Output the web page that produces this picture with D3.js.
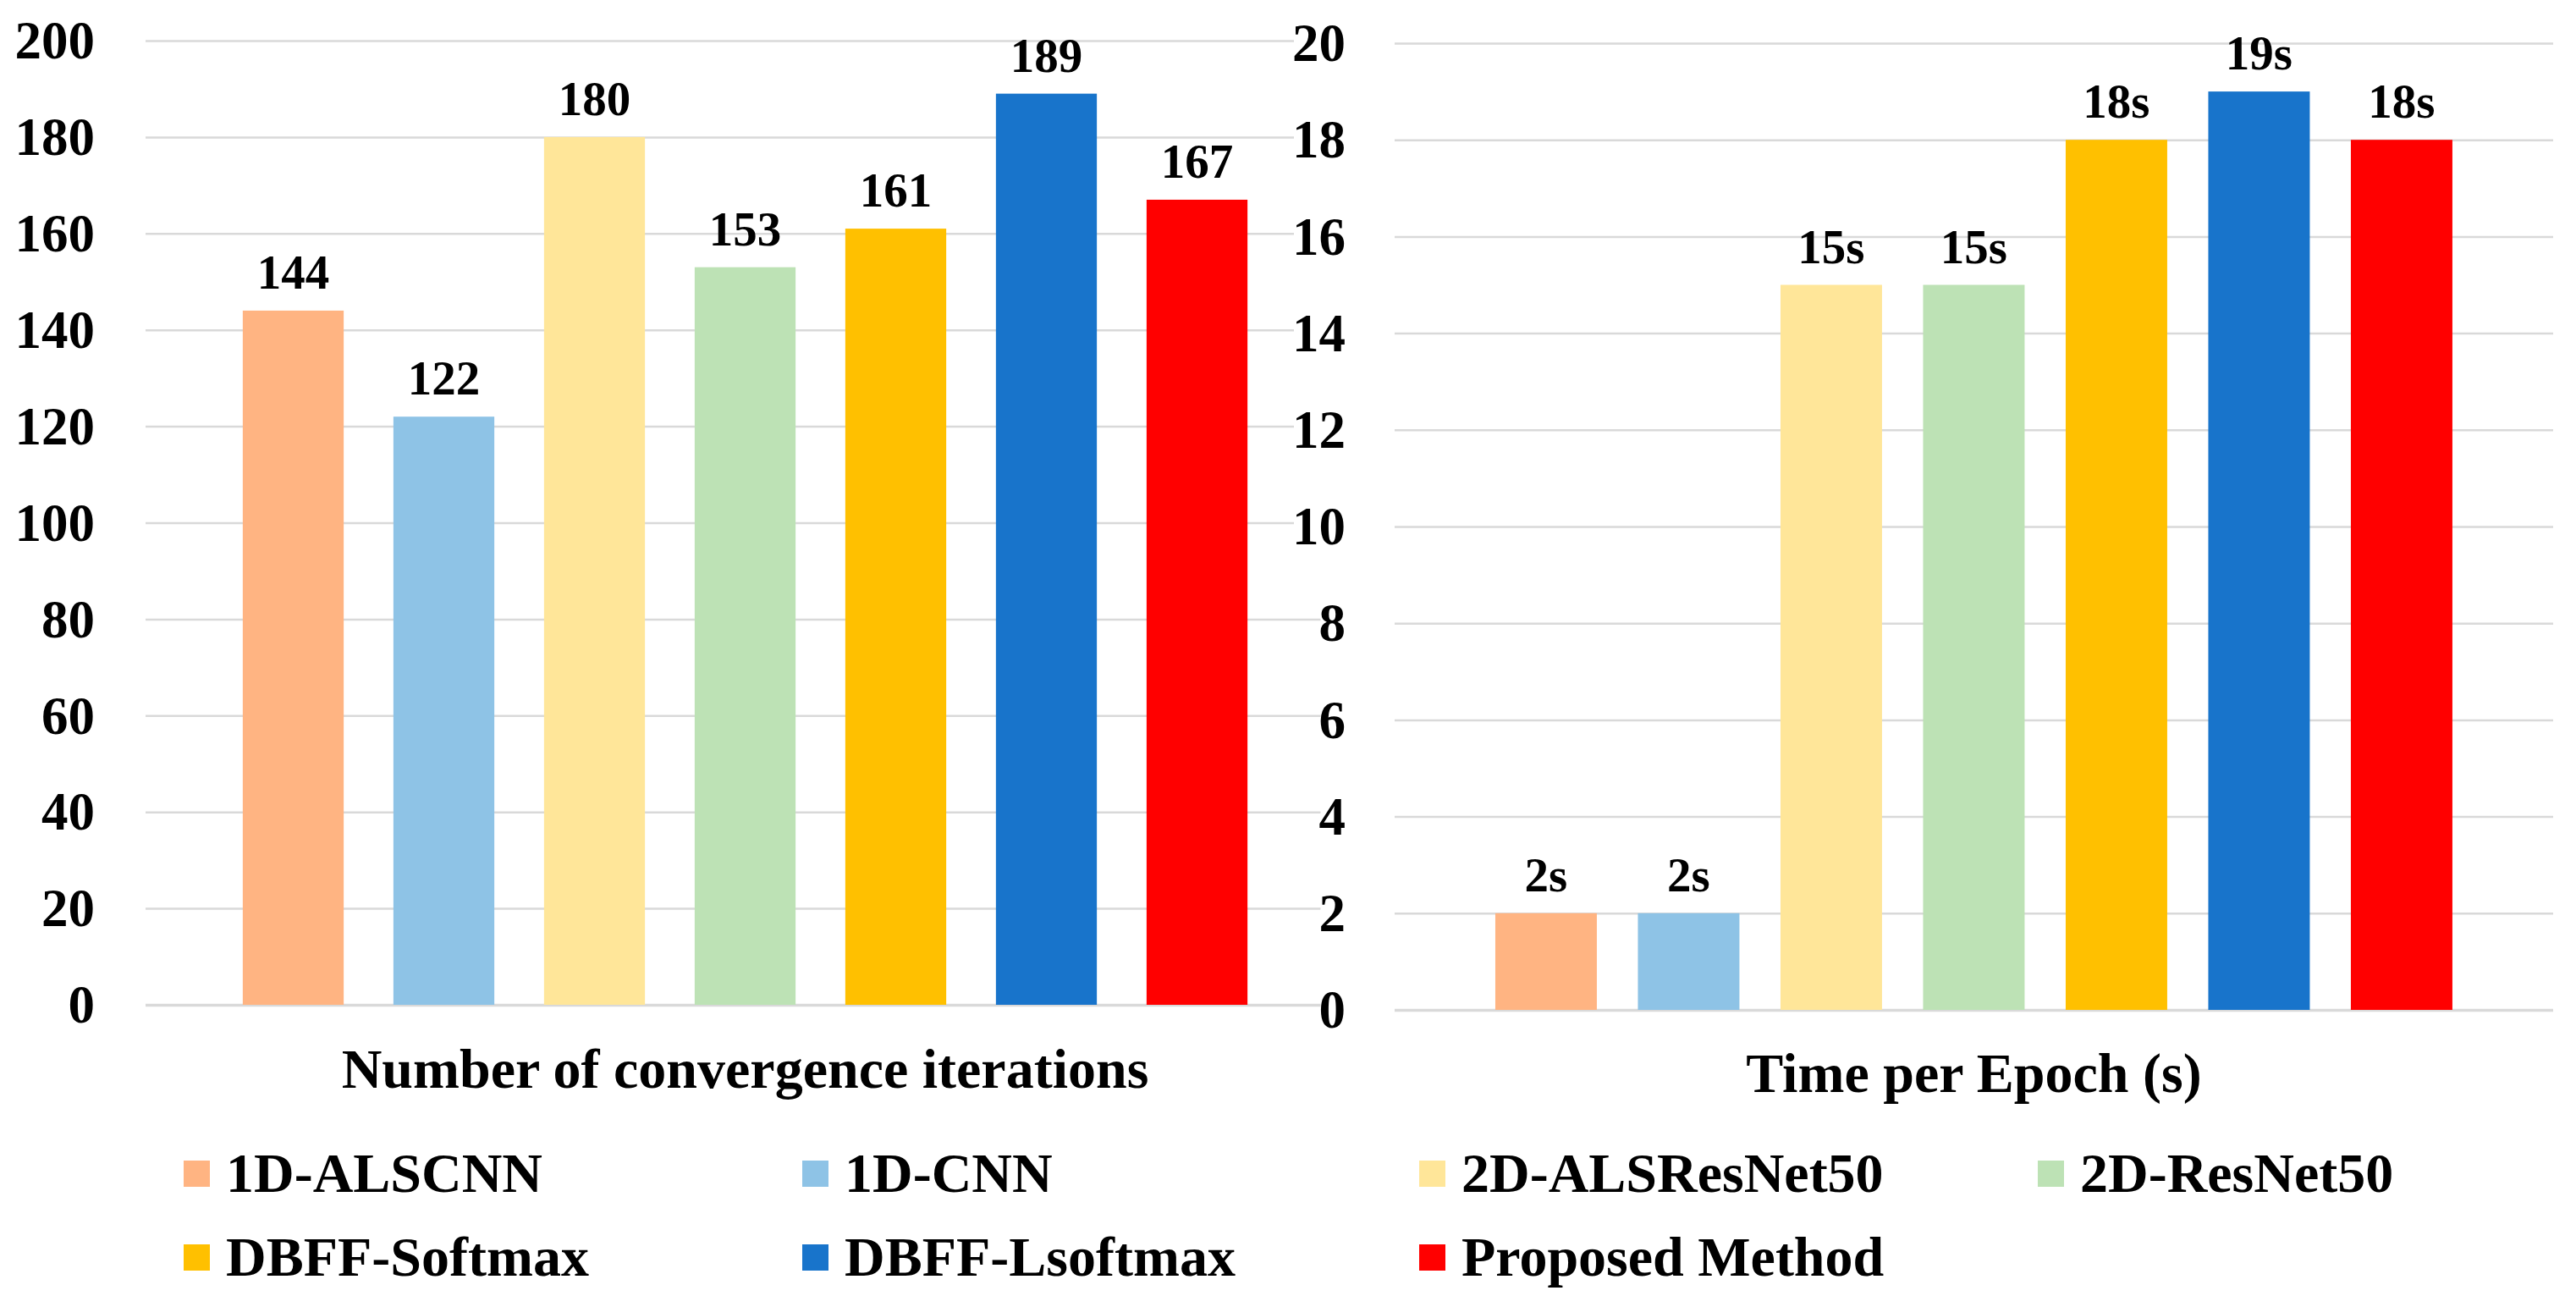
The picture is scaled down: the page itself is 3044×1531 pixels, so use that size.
<!DOCTYPE html>
<html>
<head>
<meta charset="utf-8">
<script src="https://cdn.jsdelivr.net/npm/d3@7"></script>
<style>
  body { margin: 0; background: #fff; }
  svg text { font-family: "Liberation Serif", "Times New Roman", serif; font-weight: bold; fill: #000; }
</style>
</head>
<body>
<svg id="chart"></svg>
<script>
// Data
const methods = ["1D-ALSCNN", "1D-CNN", "2D-ALSResNet50", "2D-ResNet50", "DBFF-Softmax", "DBFF-Lsoftmax", "Proposed Method"];
const iterations = [144, 122, 180, 153, 161, 189, 167];
const epochTime = [2, 2, 15, 15, 18, 19, 18];
const iterTicks = [0, 20, 40, 60, 80, 100, 120, 140, 160, 180, 200];
const timeTicks = [0, 2, 4, 6, 8, 10, 12, 14, 16, 18, 20];
const colors = ["#FFB482", "#8EC3E6", "#FFE699", "#BDE2B5", "#FFC000", "#1874CB", "#FF0000"];

const width = 3044, height = 1531;
const serif = "Liberation Serif";

const svg = d3.select("#chart")
    .attr("width", width)
    .attr("height", height);

svg.append("rect").attr("width", width).attr("height", height).attr("fill", "#fff");

const color = d3.scaleOrdinal().domain(methods).range(colors);

// Left chart scales
const x1 = d3.scaleBand().domain(methods).range([257.5, 1503.5]).paddingInner(0.33).paddingOuter(0.165);
const y1 = d3.scaleLinear().domain([0, 200]).range([1187, 48]);

// Right chart scales
const x2 = d3.scaleBand().domain(methods).range([1742.7, 2922.2]).paddingInner(0.288).paddingOuter(0.144);
const y2 = d3.scaleLinear().domain([0, 20]).range([1193, 51]);

function drawPanel(x, y, values, ticks, left, right, labelFmt) {
    const axis = svg.append("g")
        .attr("transform", `translate(${left},0)`)
        .call(d3.axisLeft(y).tickValues(ticks).tickSize(-(right - left)).tickPadding(60).tickFormat(d3.format("d")))
        .attr("font-family", serif);
    axis.select(".domain").remove();
    axis.selectAll(".tick line")
        .attr("stroke", "#D9D9D9")
        .attr("stroke-width", d => d === 0 ? 3.5 : 2.5);
    axis.selectAll(".tick text")
        .attr("font-size", 63)
        .attr("dy", "0.33em");

    svg.append("g").selectAll("rect")
        .data(values)
        .enter()
        .append("rect")
        .attr("x", (d, i) => x(methods[i]))
        .attr("y", d => y(d))
        .attr("width", x.bandwidth())
        .attr("height", d => y(0) - y(d))
        .attr("fill", (d, i) => color(methods[i]));

    svg.append("g").selectAll("text")
        .data(values)
        .enter()
        .append("text")
        .attr("x", (d, i) => x(methods[i]) + x.bandwidth() / 2)
        .attr("y", d => y(d) - 26)
        .attr("text-anchor", "middle")
        .attr("font-size", 57)
        .attr("font-family", serif)
        .text(labelFmt);

    return axis;
}

drawPanel(x1, y1, iterations, iterTicks, 172, 1600, d => d);
const rightAxis = drawPanel(x2, y2, epochTime, timeTicks, 1648, 3017, d => d + "s");
rightAxis.selectAll(".tick text").attr("dx", 2);

// white boxes behind right tick labels (they sit over the left gridlines)
rightAxis.selectAll(".tick").each(function() {
    const t = d3.select(this).select("text");
    const b = t.node().getBBox();
    d3.select(this).insert("rect", "text")
        .attr("x", b.x + 2)
        .attr("y", b.y)
        .attr("width", -b.x - 2)
        .attr("height", b.height)
        .attr("fill", "#fff");
});

// Axis titles
svg.append("text")
    .attr("x", (x1.range()[0] + x1.range()[1]) / 2)
    .attr("y", 1285)
    .attr("text-anchor", "middle")
    .attr("font-size", 66)
    .attr("font-family", serif)
    .text("Number of convergence iterations");

svg.append("text")
    .attr("x", (x2.range()[0] + x2.range()[1]) / 2)
    .attr("y", 1290)
    .attr("text-anchor", "middle")
    .attr("font-size", 66)
    .attr("font-family", serif)
    .text("Time per Epoch (s)");

// Legend
const legendCols = [217, 948, 1677, 2408];
const legendRows = [1408, 1507];

const legend = svg.append("g").selectAll("g")
    .data(methods)
    .enter()
    .append("g")
    .attr("transform", (d, i) => `translate(${legendCols[i % 4]}, ${legendRows[Math.floor(i / 4)]})`);

legend.append("rect")
    .attr("x", 0)
    .attr("y", -37)
    .attr("width", 31)
    .attr("height", 31)
    .attr("fill", d => color(d));

legend.append("text")
    .attr("x", 50)
    .attr("y", 0)
    .attr("font-size", 66)
    .attr("font-family", serif)
    .text(d => d);
</script>
</body>
</html>
